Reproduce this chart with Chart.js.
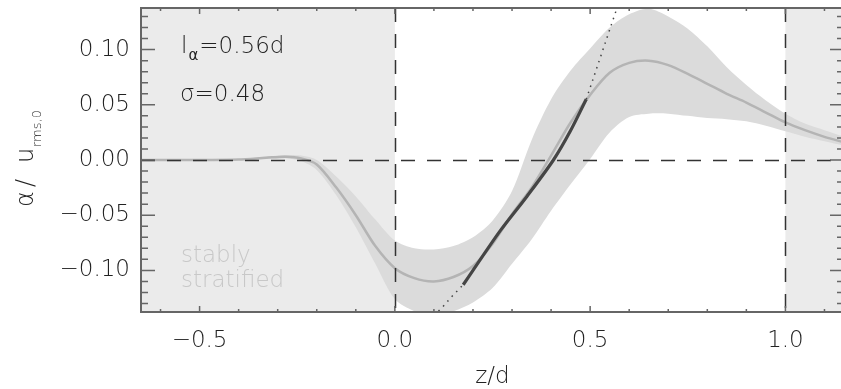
<!DOCTYPE html>
<html>
<head>
<meta charset="utf-8">
<script src="https://cdn.jsdelivr.net/npm/chart.js@4.4.1/dist/chart.umd.min.js"></script>
<style>
    html, body { margin: 0; padding: 0; background: #fff; overflow: hidden; }
    #wrap { width: 846px; height: 389px; }
</style>
</head>
<body>
<div id="wrap"><canvas id="alphaChart" width="846" height="389"></canvas></div>
<script>
// z/d sample positions of the averaged profile and its spread
const zGrid = [-0.65, -0.5, -0.4, -0.33, -0.28, -0.24, -0.2, -0.15, -0.1, -0.05, 0, 0.05, 0.1, 0.15, 0.2, 0.25,
    0.3, 0.35, 0.4, 0.45, 0.5, 0.55, 0.6, 0.65, 0.7, 0.75, 0.8, 0.85, 0.9, 0.95, 1.0, 1.05, 1.1, 1.15];
const alphaMean = [0, 0, 0.0005, 0.002, 0.003, 0.0015, -0.004, -0.025, -0.050, -0.078, -0.098, -0.107, -0.110, -0.106,
    -0.096, -0.076, -0.049, -0.025, 0.004, 0.034, 0.059, 0.079, 0.088, 0.090, 0.086, 0.078, 0.069, 0.060, 0.052, 0.043,
    0.034, 0.027, 0.021, 0.016];
const alphaUpper = [0.0005, 0.0005, 0.001, 0.003, 0.0045, 0.004, 0.0, -0.015, -0.033, -0.054, -0.073, -0.080, -0.081,
    -0.078, -0.070, -0.055, -0.028, 0.018, 0.055, 0.081, 0.101, 0.120, 0.132, 0.137, 0.130, 0.119, 0.103, 0.084, 0.068,
    0.054, 0.042, 0.033, 0.027, 0.021];
const alphaLower = [-0.0005, -0.0005, 0, 0.001, 0.0015, -0.001, -0.009, -0.032, -0.061, -0.094, -0.126, -0.137, -0.141,
    -0.137, -0.129, -0.116, -0.094, -0.072, -0.046, -0.022, 0.001, 0.025, 0.039, 0.042, 0.042, 0.040, 0.038, 0.037, 0.035,
    0.031, 0.026, 0.021, 0.017, 0.013];

// fitted part (solid) and its extrapolation (dotted)
const fitZ = [0.175, 0.2, 0.27, 0.338, 0.406, 0.449, 0.49];
const fitAlpha = [-0.113, -0.100, -0.064, -0.033, 0.0, 0.026, 0.055];
const extLowZ = [0.10, 0.128, 0.145, 0.175];
const extLowAlpha = [-0.141, -0.131, -0.124, -0.113];
const extHighZ = [0.49, 0.51, 0.53, 0.55, 0.57];
const extHighAlpha = [0.055, 0.076, 0.097, 0.118, 0.139];

const zRange = [-0.65, 1.15];
const alphaRange = [-0.1377, 0.1377];
const xTicks = [-0.5, 0, 0.5, 1.0];
const yTicks = [-0.10, -0.05, 0, 0.05, 0.10];
const stableEdges = [0, 1];

const pts = (xs, ys) => xs.map((v, i) => ({x: v, y: ys[i]}));
const fmt = (v, d) => (v < 0 ? '\u2212' : '') + Math.abs(v).toFixed(d);
const textFont = '"DejaVu Sans"';
const inkColor = '#222';

const framePlugin = {
    id: 'frame',
    beforeDatasetsDraw(chart) {
        const {ctx, chartArea: a, scales: {x}} = chart;
        const x0 = x.getPixelForValue(stableEdges[0]);
        const x1 = x.getPixelForValue(stableEdges[1]);
        ctx.save();
        ctx.fillStyle = '#ebebeb';
        ctx.fillRect(a.left, a.top, x0 - a.left, a.bottom - a.top);
        ctx.fillRect(x1, a.top, a.right - x1, a.bottom - a.top);
        ctx.restore();
    },
    afterDatasetsDraw(chart) {
        const {ctx, chartArea: a, scales: {x, y}} = chart;
        ctx.save();
        ctx.strokeStyle = '#333';
        ctx.lineWidth = 1.5;
        ctx.setLineDash([14, 12]);
        ctx.beginPath();
        stableEdges.forEach(v => {
            const px = Math.round(x.getPixelForValue(v)) + 0.5;
            ctx.moveTo(px, a.top);
            ctx.lineTo(px, a.bottom);
        });
        const py = Math.round(y.getPixelForValue(0)) + 0.5;
        ctx.moveTo(a.left, py);
        ctx.lineTo(a.right, py);
        ctx.stroke();
        ctx.restore();
    },
    afterDraw(chart) {
        const {ctx, chartArea: a, scales: {x, y}} = chart;
        ctx.save();
        // axes box and inward ticks
        ctx.strokeStyle = '#666';
        ctx.lineWidth = 2;
        ctx.strokeRect(a.left, a.top, a.right - a.left, a.bottom - a.top);
        ctx.lineWidth = 1.5;
        ctx.beginPath();
        for (let i = -6; i <= 11; i++) {
            const px = x.getPixelForValue(i / 10);
            const len = i % 5 === 0 ? 6 : 3;
            ctx.moveTo(px, a.bottom); ctx.lineTo(px, a.bottom - len);
            ctx.moveTo(px, a.top); ctx.lineTo(px, a.top + len);
        }
        for (let i = -13; i <= 13; i++) {
            const py = y.getPixelForValue(i / 100);
            const len = i % 5 === 0 ? 14 : 7;
            ctx.moveTo(a.left, py); ctx.lineTo(a.left + len, py);
            ctx.moveTo(a.right, py); ctx.lineTo(a.right - len, py);
        }
        ctx.stroke();

        // annotations
        ctx.fillStyle = inkColor;
        ctx.textBaseline = 'alphabetic';
        ctx.textAlign = 'left';
        ctx.font = '200 23px ' + textFont;
        ctx.fillText('l', 181, 53);
        let cx = 181 + ctx.measureText('l').width + 1;
        ctx.font = '400 15px ' + textFont;
        ctx.fillText('\u03b1', cx, 60);
        cx += ctx.measureText('\u03b1').width + 1;
        ctx.font = '200 23px ' + textFont;
        ctx.fillText('=0.56d', cx, 53);
        ctx.fillText('\u03c3=0.48', 180, 101);

        ctx.fillStyle = '#c8c8c8';
        ctx.fillText('stably', 181, 262);
        ctx.fillText('stratified', 181, 287);

        // axis titles
        ctx.fillStyle = inkColor;
        ctx.textAlign = 'center';
        ctx.fillText('z/d', (a.left + a.right) / 2, 383);

        ctx.translate(33, 207);
        ctx.rotate(-Math.PI / 2);
        ctx.textAlign = 'left';
        ctx.font = '200 24px ' + textFont;
        ctx.fillText('\u03b1', 0, 0);
        ctx.fillText('/', 20, 0);
        ctx.fillText('u', 44, 0);
        ctx.font = '200 13px ' + textFont;
        ctx.fillText('rms,0', 60, 8);
        ctx.restore();
    }
};

const ctx = document.getElementById('alphaChart').getContext('2d');
const alphaChart = new Chart(ctx, {
    type: 'line',
    data: {
        datasets: [{
            label: 'upper',
            data: pts(zGrid, alphaUpper),
            borderColor: 'rgba(0,0,0,0)',
            borderWidth: 0,
            backgroundColor: '#dbdbdb',
            fill: '+1',
            tension: 0.3,
            pointRadius: 0,
            order: 6
        }, {
            label: 'lower',
            data: pts(zGrid, alphaLower),
            borderColor: 'rgba(0,0,0,0)',
            borderWidth: 0,
            fill: false,
            tension: 0.3,
            pointRadius: 0,
            order: 5
        }, {
            label: 'mean',
            data: pts(zGrid, alphaMean),
            borderColor: '#b4b4b4',
            borderWidth: 2.5,
            fill: false,
            tension: 0.3,
            pointRadius: 0,
            order: 4
        }, {
            label: 'extrapolation low',
            data: pts(extLowZ, extLowAlpha),
            borderColor: '#444',
            borderWidth: 1.5,
            borderDash: [1.5, 5],
            fill: false,
            pointRadius: 0,
            order: 3
        }, {
            label: 'extrapolation high',
            data: pts(extHighZ, extHighAlpha),
            borderColor: '#444',
            borderWidth: 1.5,
            borderDash: [1.5, 5],
            fill: false,
            pointRadius: 0,
            order: 2
        }, {
            label: 'fit',
            data: pts(fitZ, fitAlpha),
            borderColor: '#454545',
            borderWidth: 3.2,
            fill: false,
            tension: 0.3,
            pointRadius: 0,
            order: 1
        }]
    },
    options: {
        responsive: false,
        animation: false,
        layout: {padding: {top: 8, right: 2, left: 0, bottom: 0}},
        plugins: {
            legend: {display: false},
            tooltip: {enabled: false},
        },
        scales: {
            x: {
                type: 'linear',
                min: zRange[0],
                max: zRange[1],
                grid: {display: false, drawTicks: false},
                border: {display: false},
                afterBuildTicks: s => { s.ticks = xTicks.map(v => ({value: v})); },
                afterFit: s => { s.height = 77; s.paddingLeft = 0; s.paddingRight = 0; },
                ticks: {
                    padding: 15,
                    color: inkColor,
                    maxRotation: 0,
                    font: {family: 'DejaVu Sans', size: 23, weight: '200'},
                    callback: v => fmt(v, 1)
                }
            },
            y: {
                type: 'linear',
                min: alphaRange[0],
                max: alphaRange[1],
                grid: {display: false, drawTicks: false},
                border: {display: false},
                afterBuildTicks: s => { s.ticks = yTicks.map(v => ({value: v})); },
                afterFit: s => { s.width = 141; s.paddingTop = 0; s.paddingBottom = 0; },
                ticks: {
                    padding: 11,
                    color: inkColor,
                    font: {family: 'DejaVu Sans', size: 23, weight: '200'},
                    callback: v => fmt(v, 2)
                }
            }
        }
    },
    plugins: [framePlugin]
});
</script>
</body>
</html>
